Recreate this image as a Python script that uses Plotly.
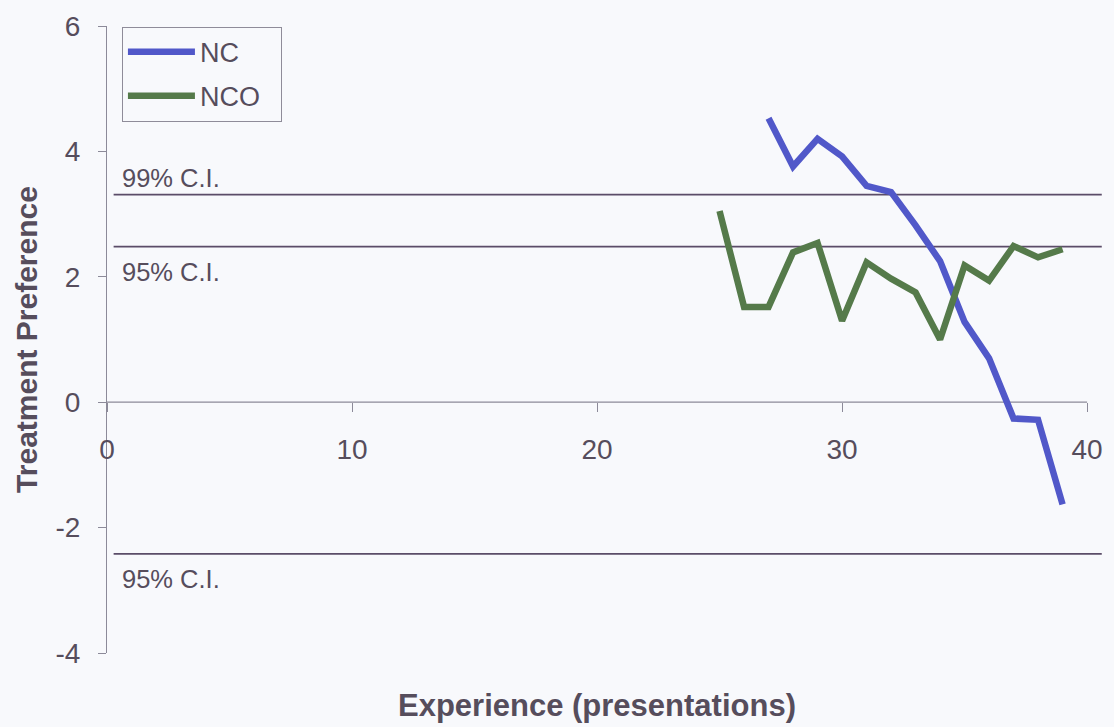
import plotly.graph_objects as go

# Trial numbers (presentations) and treatment preference scores
nc_x = [27, 28, 29, 30, 31, 32, 33, 34, 35, 36, 37, 38, 39]
nc_y = [4.53, 3.76, 4.20, 3.92, 3.45, 3.35, 2.82, 2.25, 1.28, 0.70, -0.26, -0.28, -1.63]

nco_x = [25, 26, 27, 28, 29, 30, 31, 32, 33, 34, 35, 36, 37, 38, 39]
nco_y = [3.05, 1.52, 1.52, 2.39, 2.54, 1.30, 2.23, 1.97, 1.75, 1.00, 2.18, 1.94, 2.49, 2.31, 2.44]

# Confidence-interval reference levels
ci_levels = [3.31, 2.48, -2.42]
ci_labels = ["99% C.I.", "95% C.I.", "95% C.I."]
ci_label_y = [3.58, 2.07, -2.82]

y_ticks = [-4, -2, 0, 2, 4, 6]
y_ticktext = ["-4", "-2", "0", "2", "4", "6"]
x_ticks = [0, 10, 20, 30, 40]

TXT = "#564d5c"
AXIS = "#8c8a99"
CI_COLOR = "#5b4d68"
FONT = "Liberation Sans, Arial, sans-serif"
PAD = "&nbsp;&nbsp;"  # extra room on the right of the legend box

fig = go.Figure()

# CI reference lines
for lvl in ci_levels:
    fig.add_trace(go.Scatter(
        x=[0.27, 40.6], y=[lvl, lvl], mode="lines",
        line=dict(color=CI_COLOR, width=1.8), showlegend=False, hoverinfo="skip"))

# zero line along the x axis (0..40)
fig.add_trace(go.Scatter(
    x=[0, 40], y=[0, 0], mode="lines",
    line=dict(color=AXIS, width=1.2), showlegend=False, hoverinfo="skip"))

fig.add_trace(go.Scatter(
    x=nc_x, y=nc_y, mode="lines", name="NC" + PAD, legendgroup="a",
    line=dict(color="#5158c9", width=6.5)))
fig.add_trace(go.Scatter(
    x=nco_x, y=nco_y, mode="lines", name="NCO" + PAD, legendgroup="b",
    line=dict(color="#557a4a", width=6.5)))

for lab, ly in zip(ci_labels, ci_label_y):
    fig.add_annotation(x=0.55, y=ly, xref="x", yref="y", text=lab,
                       showarrow=False, xanchor="left", yanchor="middle",
                       font=dict(family=FONT, size=25.5, color=TXT))

fig.add_annotation(x=20, y=-0.083, xref="x", yref="paper",
                   text="<b>Experience (presentations)</b>", showarrow=False,
                   xanchor="center", yanchor="middle",
                   font=dict(family=FONT, size=31, color=TXT))

fig.update_layout(
    width=1114, height=727,
    margin=dict(l=107, r=11, t=23, b=74),
    paper_bgcolor="#f8f9fc", plot_bgcolor="#f8f9fc",
    font=dict(family=FONT, color=TXT),
    legend=dict(
        x=0.015, y=0.999, xanchor="left", yanchor="top",
        bgcolor="rgba(0,0,0,0)", bordercolor="#8f8c99", borderwidth=1,
        font=dict(family=FONT, size=27, color=TXT),
        traceorder="grouped", tracegroupgap=6, itemwidth=67,
    ),
    xaxis=dict(
        range=[0, 40.65], tickvals=x_ticks, showgrid=False, zeroline=False,
        showline=False, ticks="outside", ticklen=9, tickcolor=AXIS,
        anchor="free", position=0.4, ticklabelstandoff=13,
        tickfont=dict(family=FONT, size=28, color=TXT),
    ),
    yaxis=dict(
        range=[-4, 6], tickvals=y_ticks, ticktext=y_ticktext,
        showgrid=False, zeroline=False,
        showline=True, linecolor=AXIS, linewidth=1.2,
        ticks="outside", ticklen=8, tickcolor=AXIS, ticklabelstandoff=12,
        tickfont=dict(family=FONT, size=28, color=TXT),
        title=dict(text="<b>Treatment Preference</b>", standoff=8,
                   font=dict(family=FONT, size=30, color=TXT)),
    ),
)

fig.write_html("out.html")
